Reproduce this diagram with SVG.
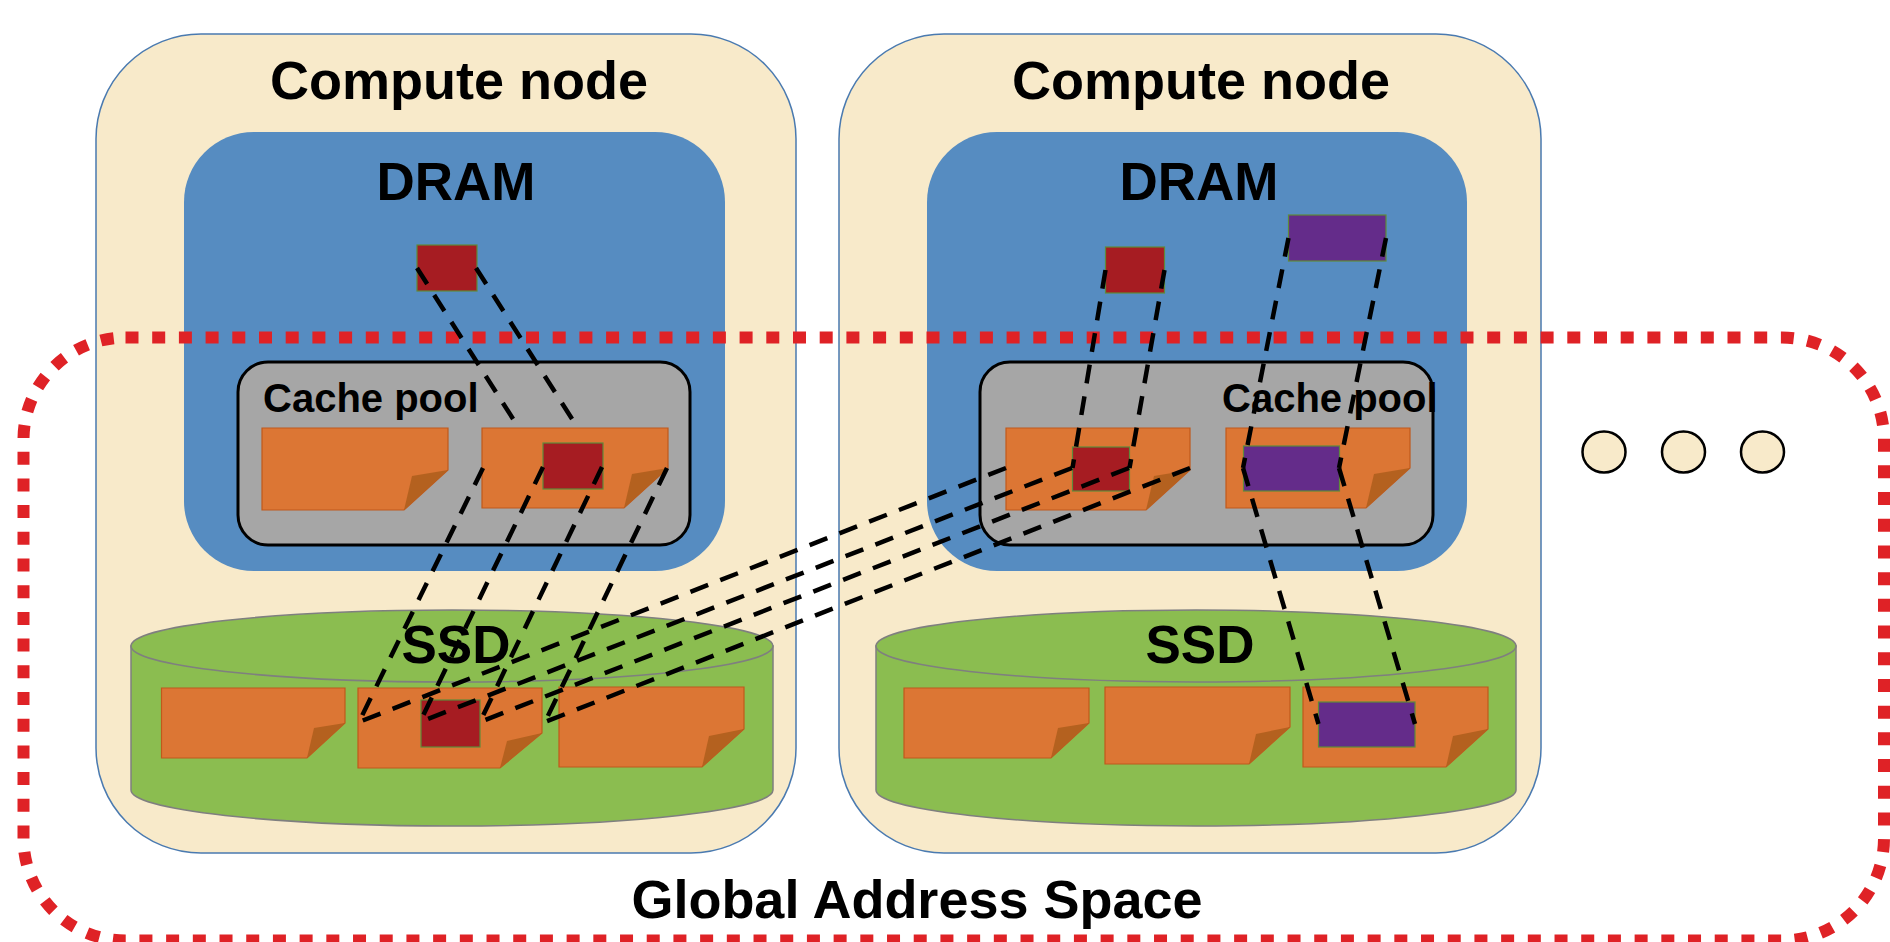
<svg xmlns="http://www.w3.org/2000/svg" width="1890" height="942" viewBox="0 0 1890 942">
<style>
.node{fill:#F8EACA;stroke:#4A7AB0;stroke-width:1.5}
.dram{fill:#568CC1}
.pool{fill:#A6A6A6;stroke:#000;stroke-width:3}
.page{fill:#DC7634;stroke:#C0591C;stroke-width:1.2}
.fold{fill:#B4611F}
.red{fill:#A61C22;stroke:#5E8A3A;stroke-width:1.2}
.purple{fill:#642C8A;stroke:#5E8A3A;stroke-width:1.2}
.ssd{fill:#8BBD50;stroke:#7F7F7F;stroke-width:1.5}
.t{font-family:"Liberation Sans",Arial,sans-serif;font-weight:bold;fill:#000}
.big{font-size:54px;text-anchor:middle}
.mid{font-size:53px;text-anchor:middle}
.small{font-size:40px}
.gas{fill:none;stroke:#DF2226;stroke-width:12;stroke-dasharray:13 13.7}
.dots{fill:#F8EACA;stroke:#000;stroke-width:2.5}
.conn line{stroke:#000;stroke-width:4.5;stroke-dasharray:19 13;fill:none}
</style>

<g id="compute-node-1">
  <rect class="node" x="96" y="34" width="700" height="819" rx="105"/>
  <text class="t big" x="459" y="99">Compute node</text>
  <g id="dram-1">
    <rect class="dram" x="184" y="132" width="541" height="439" rx="70"/>
    <text class="t mid" x="456" y="200">DRAM</text>
    <rect class="red" x="417" y="245" width="60" height="46"/>
  </g>
  <g id="cache-pool-1">
    <rect class="pool" x="238" y="362" width="452" height="183" rx="30"/>
    <text class="t small" x="263" y="412">Cache pool</text>
    <path class="page" d="M262,428H448V470L404,510H262Z"/>
    <path class="fold" d="M448,470L412,476L404,510Z"/>
    <path class="page" d="M482,428H668V468L624,508H482Z"/>
    <path class="fold" d="M668,468L632,474L624,508Z"/>
    <rect class="red" x="543" y="443" width="60" height="46"/>
  </g>
  <g id="ssd-1">
    <path class="ssd" d="M131,646V790A321,36 0 0 0 773,790V646Z"/>
    <ellipse class="ssd" cx="452" cy="646" rx="321" ry="36"/>
    <text class="t mid" x="456" y="663">SSD</text>
    <path class="page" d="M161.5,688H345V723L307,758H161.5Z"/>
    <path class="fold" d="M345,723L314,728L307,758Z"/>
    <path class="page" d="M358,688H542V733L500,768H358Z"/>
    <path class="fold" d="M542,733L507,741L500,768Z"/>
    <path class="page" d="M559,687H744V729L702,767H559Z"/>
    <path class="fold" d="M744,729L709,736L702,767Z"/>
    <rect class="red" x="421" y="700" width="59" height="47"/>
  </g>
</g>

<g id="compute-node-2">
  <rect class="node" x="839" y="34" width="702" height="819" rx="105"/>
  <text class="t big" x="1201" y="99">Compute node</text>
  <g id="dram-2">
    <rect class="dram" x="927" y="132" width="540" height="439" rx="70"/>
    <text class="t mid" x="1199" y="200">DRAM</text>
    <rect class="red" x="1105.5" y="247" width="59" height="46"/>
    <rect class="purple" x="1288.5" y="215" width="97.5" height="46"/>
  </g>
  <g id="cache-pool-2">
    <rect class="pool" x="980" y="362" width="453" height="183" rx="30"/>
    <text class="t small" x="1222" y="412">Cache pool</text>
    <path class="page" d="M1006,428H1190V470L1146,510H1006Z"/>
    <path class="fold" d="M1190,470L1154,476L1146,510Z"/>
    <path class="page" d="M1226,428H1410V468L1366,508H1226Z"/>
    <path class="fold" d="M1410,468L1374,474L1366,508Z"/>
    <rect class="red" x="1072.5" y="447" width="57" height="44"/>
    <rect class="purple" x="1243.5" y="446" width="96" height="45"/>
  </g>
  <g id="ssd-2">
    <path class="ssd" d="M876,646V790A320,36 0 0 0 1516,790V646Z"/>
    <ellipse class="ssd" cx="1196" cy="646" rx="320" ry="36"/>
    <text class="t mid" x="1200" y="663">SSD</text>
    <path class="page" d="M904,688H1089V723L1051,758H904Z"/>
    <path class="fold" d="M1089,723L1058,728L1051,758Z"/>
    <path class="page" d="M1105,687H1290V727L1249,764H1105Z"/>
    <path class="fold" d="M1290,727L1256,734L1249,764Z"/>
    <path class="page" d="M1303,687H1488V729L1446,767H1303Z"/>
    <path class="fold" d="M1488,729L1453,736L1446,767Z"/>
    <rect class="purple" x="1318.5" y="702" width="96.5" height="45"/>
  </g>
</g>

<g id="global-address-space">
  <rect class="gas" x="23.5" y="337.5" width="1860.5" height="603" rx="102"/>
  <text class="t big" x="917" y="918">Global Address Space</text>
</g>

<g id="more-nodes">
  <ellipse class="dots" cx="1604" cy="452" rx="21.5" ry="20.5"/>
  <ellipse class="dots" cx="1683.5" cy="452" rx="21.5" ry="20.5"/>
  <ellipse class="dots" cx="1762.5" cy="452" rx="21.5" ry="20.5"/>
</g>

<g id="connectors" class="conn">
  <line x1="417" y1="268" x2="518.8" y2="428"/>
  <line x1="476" y1="268" x2="577.8" y2="428"/>
  <line x1="483" y1="468" x2="359" y2="722"/>
  <line x1="543" y1="467" x2="420" y2="722"/>
  <line x1="602" y1="467" x2="480" y2="722"/>
  <line x1="667" y1="468" x2="545" y2="722"/>
  <line x1="1006" y1="468" x2="359" y2="722"/>
  <line x1="1072" y1="468" x2="420" y2="722"/>
  <line x1="1129" y1="468" x2="480" y2="722"/>
  <line x1="1190" y1="468" x2="545" y2="722"/>
  <line x1="1105.5" y1="270" x2="1072.5" y2="468"/>
  <line x1="1164.5" y1="270" x2="1129.5" y2="468"/>
  <line x1="1288.5" y1="238" x2="1243" y2="468"/>
  <line x1="1386" y1="238" x2="1339" y2="468"/>
  <line x1="1243" y1="468" x2="1318.5" y2="724"/>
  <line x1="1339" y1="468" x2="1415" y2="724"/>
</g>
</svg>
